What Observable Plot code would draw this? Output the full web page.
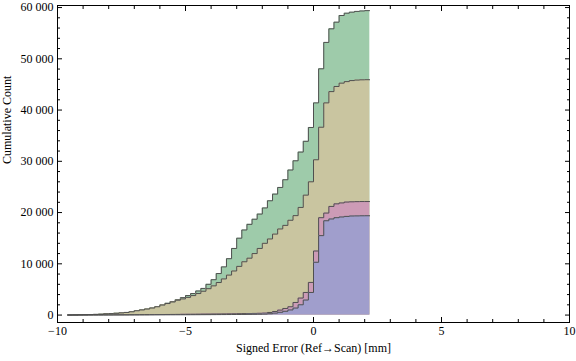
<!DOCTYPE html>
<html>
<head>
<meta charset="utf-8">
<script src="https://cdn.jsdelivr.net/npm/d3@7"></script>
<script src="https://cdn.jsdelivr.net/npm/@observablehq/plot@0.6"></script>
<style>
  html, body { margin: 0; padding: 0; background: #fff; }
  #chart { width: 576px; height: 361px; }
</style>
</head>
<body>
<div id="chart"></div>
<script>
// Histogram bins: left edges start at firstBinStart, each binWidth wide
const firstBinStart = -9.6;
const binWidth = 0.2;

// Cumulative counts per bin
const greenCounts = [20, 40, 60, 80, 100, 130, 160, 250, 290, 340, 420, 510, 640, 840, 1000, 1170, 1370, 1620,
  1980, 2300, 2650, 3000, 3400, 3800, 4200, 4700, 5200, 6000, 6900, 8100, 9400, 11000, 13000, 15000, 16600,
  17700, 18700, 19700, 20900, 22300, 23600, 24900, 26400, 28300, 30100, 31800, 33900, 36600, 41400, 48050,
  53200, 55850, 57150, 58450, 58900, 59100, 59250, 59330, 59400];
const tanCounts = [20, 40, 60, 80, 100, 130, 160, 250, 290, 340, 420, 510, 640, 840, 1000, 1170, 1370, 1620,
  1950, 2250, 2550, 2900, 3150, 3450, 3800, 4200, 4650, 5150, 5700, 6350, 7050, 7800, 8600, 9500, 10400,
  11100, 12000, 13000, 14000, 14850, 15800, 16800, 17500, 18500, 19400, 21000, 23400, 26000, 30300, 36650,
  41400, 43600, 44600, 45250, 45550, 45750, 45850, 45900, 45920];
const pinkCounts = [5, 7, 11, 14, 17, 22, 27, 31, 34, 41, 45, 52, 60, 64, 73, 79, 90, 97, 104, 116, 124, 133,
  146, 157, 163, 176, 188, 194, 207, 213, 228, 236, 248, 266, 281, 297, 322, 344, 380, 510, 700, 970, 1290,
  1620, 2460, 3320, 4410, 6370, 12500, 19000, 19900, 21200, 21700, 21880, 22050, 22100, 22130, 22150, 22150];
const purpleCounts = [2, 3, 5, 6, 8, 10, 12, 14, 17, 19, 21, 24, 28, 30, 33, 37, 39, 42, 46, 48, 51, 55, 59,
  62, 67, 70, 75, 79, 84, 91, 96, 102, 111, 118, 127, 139, 150, 166, 190, 260, 380, 540, 740, 1000, 1370,
  2010, 2930, 4410, 10300, 15500, 18400, 18750, 19000, 19140, 19250, 19330, 19350, 19370, 19380];

const seriesNames = ["green", "tan", "pink", "purple"];
const seriesFill = ["#9ecbaa", "#c9c5a0", "#cc9bb6", "#a09ecc"];
const seriesCounts = [greenCounts, tanCounts, pinkCounts, purpleCounts];

// Axis ticks and labels
const xMajorTicks = [-10, -5, 0, 5, 10];
const xMinorTicks = [-9, -8, -7, -6, -4, -3, -2, -1, 1, 2, 3, 4, 6, 7, 8, 9];
const yMajorTicks = [0, 10000, 20000, 30000, 40000, 50000, 60000];
const yMinorTicks = [2000, 4000, 6000, 8000, 12000, 14000, 16000, 18000, 22000, 24000, 26000, 28000,
  32000, 34000, 36000, 38000, 42000, 44000, 46000, 48000, 52000, 54000, 56000, 58000];
const xTitle = "Signed Error (Ref\u2192Scan) [mm]";
const yTitle = "Cumulative Count";

function stepPoints(counts) {
  const pts = counts.map((c, i) => ({x: +(firstBinStart + i * binWidth).toFixed(3), y: c}));
  pts.push({x: +(firstBinStart + counts.length * binWidth).toFixed(3), y: counts[counts.length - 1]});
  return pts;
}

const fmtY = d => d === 0 ? "0" : d3.format(",")(d).replace(/,/g, " ");
const fmtX = d => d < 0 ? "\u2212" + Math.abs(d) : String(d);
const blank = () => "";
const edge = "#4f4f4f";

const marks = [];
seriesCounts.forEach((counts, k) => {
  const pts = stepPoints(counts);
  marks.push(Plot.areaY(pts, {x: "x", y: "y", curve: "step-after", fill: seriesFill[k]}));
  marks.push(Plot.lineY(pts, {x: "x", y: "y", curve: "step-after", stroke: edge, strokeWidth: 1}));
});

marks.push(
  Plot.frame({stroke: "#000", strokeWidth: 1}),
  Plot.axisX(xMajorTicks, {anchor: "bottom", tickSize: -5, tickPadding: 9, tickFormat: fmtX, label: null}),
  Plot.axisX(xMinorTicks, {anchor: "bottom", tickSize: -3, tickFormat: blank, label: null}),
  Plot.axisX(xMajorTicks, {anchor: "top", tickSize: -5, tickFormat: blank, label: null}),
  Plot.axisX(xMinorTicks, {anchor: "top", tickSize: -3, tickFormat: blank, label: null}),
  Plot.axisY(yMajorTicks, {anchor: "left", tickSize: -5, tickPadding: 9, tickFormat: fmtY, label: null}),
  Plot.axisY(yMinorTicks, {anchor: "left", tickSize: -3, tickFormat: blank, label: null}),
  Plot.axisY(yMajorTicks, {anchor: "right", tickSize: -5, tickFormat: blank, label: null}),
  Plot.axisY(yMinorTicks, {anchor: "right", tickSize: -3, tickFormat: blank, label: null}),
  Plot.text([xTitle], {frameAnchor: "bottom", dy: 29, text: d => d, fontSize: 12}),
  Plot.text([yTitle], {frameAnchor: "left", dx: -50, rotate: -90, text: d => d, fontSize: 12})
);

const chart = Plot.plot({
  width: 576,
  height: 361,
  marginLeft: 57,
  marginRight: 7,
  marginTop: 5,
  marginBottom: 39,
  x: {domain: [-10, 10]},
  y: {domain: [-1450, 60400]},
  style: {fontFamily: "'Liberation Serif', 'Times New Roman', serif", fontSize: "12px", background: "#fff", color: "#000"},
  marks
});
document.getElementById("chart").appendChild(chart);
</script>
</body>
</html>
